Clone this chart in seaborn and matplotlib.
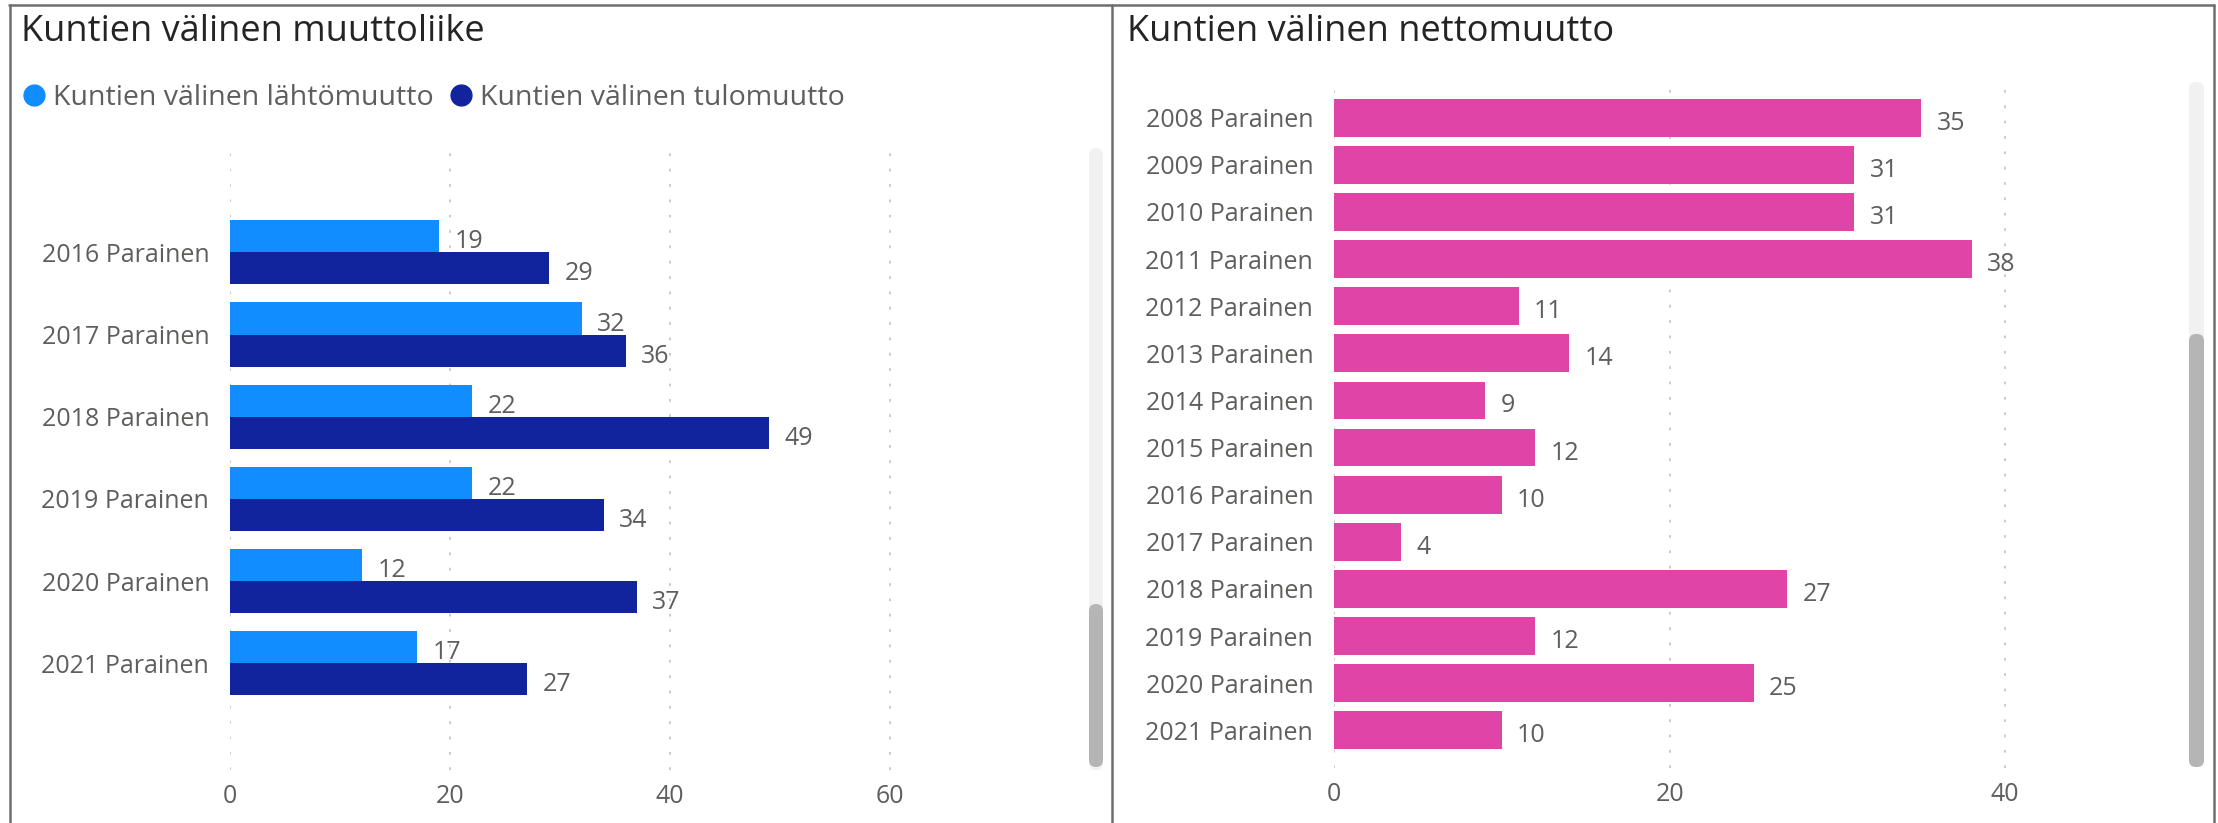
import matplotlib
matplotlib.use("Agg")
import matplotlib.pyplot as plt
from matplotlib.lines import Line2D
from matplotlib.patches import FancyBboxPatch
import pandas as pd
import seaborn as sns

# --- data (luettu kuvasta) ---
vuodet_vasen = ['2016 Parainen', '2017 Parainen', '2018 Parainen',
                '2019 Parainen', '2020 Parainen', '2021 Parainen']
lahtomuutto = [19, 32, 22, 22, 12, 17]
tulomuutto = [29, 36, 49, 34, 37, 27]
sarjat = ['Kuntien välinen lähtömuutto', 'Kuntien välinen tulomuutto']

vuodet_oikea = ['2008 Parainen', '2009 Parainen', '2010 Parainen', '2011 Parainen',
                '2012 Parainen', '2013 Parainen', '2014 Parainen', '2015 Parainen',
                '2016 Parainen', '2017 Parainen', '2018 Parainen', '2019 Parainen',
                '2020 Parainen', '2021 Parainen']
nettomuutto = [35, 31, 31, 38, 11, 14, 9, 12, 10, 4, 27, 12, 25, 10]

x_ticks_vasen = [0, 20, 40, 60]
x_ticks_oikea = [0, 20, 40]

varit = ['#118DFF', '#12239E']
pinkki = '#E044A7'
tekstivari = '#605E5C'
otsikkovari = '#252423'

sns.set_theme(style='white')
plt.rcParams['font.family'] = ['Open Sans', 'DejaVu Sans']

W, H = 2218, 823
fig = plt.figure(figsize=(W / 100, H / 100), dpi=100)

df_vasen = pd.DataFrame({
    'vuosi': vuodet_vasen * 2,
    'arvo': lahtomuutto + tulomuutto,
    'sarja': [sarjat[0]] * len(vuodet_vasen) + [sarjat[1]] * len(vuodet_vasen),
})
df_oikea = pd.DataFrame({'vuosi': vuodet_oikea, 'arvo': nettomuutto})


def siisti(ax, ticks):
    ax.set_xlabel('')
    ax.set_ylabel('')
    ax.set_xticks(ticks)
    for s in ax.spines.values():
        s.set_visible(False)
    ax.grid(axis='x', color='#C8C6C4', linestyle=(0, (1.5, 7)), linewidth=1.3)
    ax.grid(axis='y', visible=False)
    ax.set_axisbelow(True)
    ax.tick_params(axis='y', length=0, pad=15, labelsize=18, labelcolor=tekstivari)
    ax.tick_params(axis='x', length=0, pad=10, labelsize=18, labelcolor=tekstivari)


def arvot(ax):
    # arvot palkin perään, hieman keskikohdan alapuolelle kuten Power BI:ssä
    for c in ax.containers:
        for t in ax.bar_label(c, padding=11, fontsize=18, color=tekstivari):
            t.xyann = (11, -4)


# vasen paneeli: lähtö- ja tulomuutto
ax1 = fig.add_axes([230 / W, 1 - 770 / H, (1066 - 230) / W, 622 / H])
sns.barplot(data=df_vasen, y='vuosi', x='arvo', hue='sarja', palette=varit,
            orient='h', width=0.78, saturation=1, errorbar=None,
            legend=False, linewidth=0, ax=ax1)
ax1.set_xlim(0, 76)
ax1.set_ylim(6.30, -1.27)
arvot(ax1)
siisti(ax1, x_ticks_vasen)

# oikea paneeli: nettomuutto
ax2 = fig.add_axes([1334 / W, 1 - 768 / H, (2173 - 1334) / W, 688 / H])
sns.barplot(data=df_oikea, y='vuosi', x='arvo', color=pinkki, orient='h',
            width=0.8, saturation=1, errorbar=None, linewidth=0, ax=ax2)
ax2.set_xlim(0, 50)
ax2.set_ylim(13.8, -0.8)
arvot(ax2)
siisti(ax2, x_ticks_oikea)

# otsikot
fig.text(21 / W, 1 - 32 / H, 'Kuntien välinen muuttoliike', fontsize=26,
         color=otsikkovari, va='center', ha='left')
fig.text(1127 / W, 1 - 32 / H, 'Kuntien välinen nettomuutto', fontsize=26,
         color=otsikkovari, va='center', ha='left')

# legenda
kahvat = [Line2D([], [], marker='o', linestyle='', markersize=15, color=v) for v in varit]
fig.legend(kahvat, sarjat, loc='center left', bbox_to_anchor=(24 / W, 1 - 98 / H),
           ncol=2, frameon=False, fontsize=20.5, handlelength=0.7,
           handletextpad=0.32, columnspacing=0.6, borderaxespad=0, borderpad=0,
           labelcolor=tekstivari)

# vierityspalkit (Power BI)
def palkki(x0, x1, y0, y1, vari):
    fig.patches.append(FancyBboxPatch((x0, H - y1), x1 - x0, y1 - y0,
                                      boxstyle='round,pad=0,rounding_size=7',
                                      transform=None, facecolor=vari,
                                      edgecolor='none', figure=fig))

palkki(1089, 1103, 148, 770, '#F1F1F1')
palkki(1089, 1103, 604, 767, '#B5B5B5')
palkki(2189, 2204, 82, 767, '#F1F1F1')
palkki(2189, 2204, 334, 767, '#B5B5B5')

# kehykset
reuna = dict(color='#6E6E6E', linewidth=1.8, transform=fig.transFigure)
fig.add_artist(Line2D([9 / W, 2214 / W], [1 - 5 / H, 1 - 5 / H], **reuna))
fig.add_artist(Line2D([10 / W, 10 / W], [0, 1 - 5 / H], **reuna))
fig.add_artist(Line2D([1112 / W, 1112 / W], [0, 1 - 5 / H], **reuna))
fig.add_artist(Line2D([2214 / W, 2214 / W], [0, 1 - 5 / H], **reuna))

fig.savefig('out.png', dpi=100)
